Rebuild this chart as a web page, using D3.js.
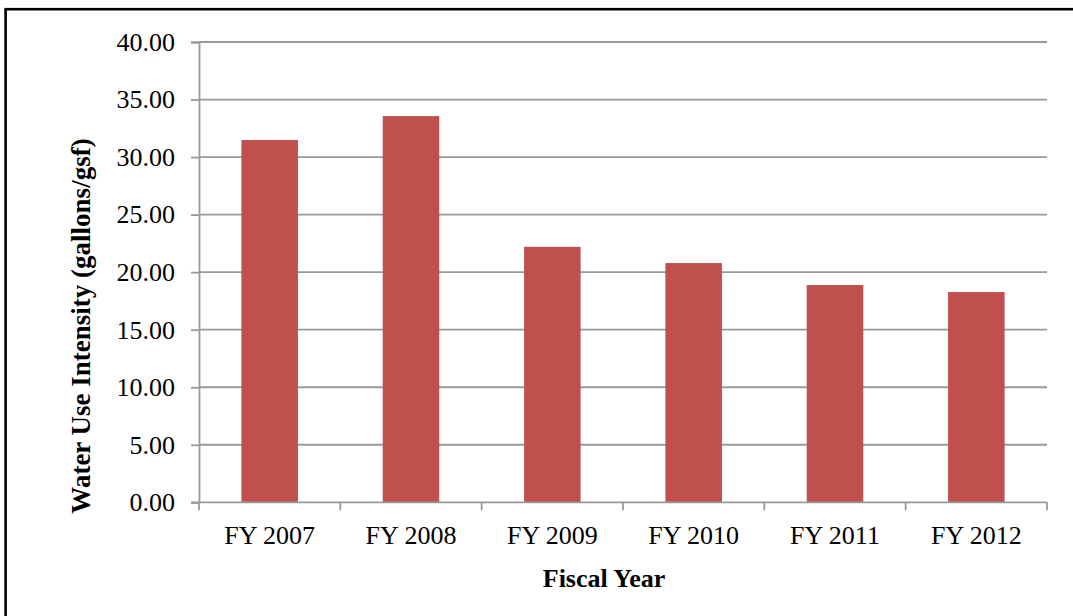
<!DOCTYPE html>
<html>
<head>
<meta charset="utf-8">
<script src="https://cdn.jsdelivr.net/npm/d3@7"></script>
<style>
  body { margin: 0; background: #fff; }
  svg { display: block; }
</style>
</head>
<body>
<div id="plot"></div>
<script>
"use strict";

const years = ["FY 2007", "FY 2008", "FY 2009", "FY 2010", "FY 2011", "FY 2012"];
const intensity = [31.48, 33.56, 22.2, 20.79, 18.88, 18.27];
const yTicks = [0, 5, 10, 15, 20, 25, 30, 35, 40];

const msm = {
    width: 1073,
    height: 616,
    left: 199,
    right: 1047,
    top: 42,
    bottom: 502.3
};

const svg = d3.select("#plot")
    .append("svg")
    .attr("width", msm.width)
    .attr("height", msm.height);

// outer frame (only left and top edges show in the picture)
svg.append("rect")
    .attr("x", 5.6)
    .attr("y", 9.2)
    .attr("width", 1200)
    .attr("height", 800)
    .attr("fill", "none")
    .attr("stroke", "#000")
    .attr("stroke-width", 2.6);

const yScale = d3.scaleLinear()
    .domain([0, 40])
    .range([msm.bottom, msm.top]);

// bars sit in the middle 40% of each category
const xScale = d3.scaleBand()
    .domain(years)
    .range([msm.left, msm.right])
    .paddingInner(0.6)
    .paddingOuter(0.3);

// category slots, used for the tick marks between categories
const slotScale = d3.scaleBand()
    .domain(years)
    .range([msm.left, msm.right])
    .padding(0);

const gridColor = "#999999";

// horizontal gridlines
svg.append("g")
    .selectAll("line")
    .data(yTicks.filter(t => t > 0))
    .enter()
    .append("line")
    .attr("x1", msm.left)
    .attr("x2", msm.right)
    .attr("y1", d => yScale(d))
    .attr("y2", d => yScale(d))
    .attr("stroke", gridColor)
    .attr("stroke-width", 1.8);

// bars
svg.append("g")
    .selectAll("rect")
    .data(years)
    .enter()
    .append("rect")
    .attr("x", d => xScale(d))
    .attr("width", xScale.bandwidth())
    .attr("y", (d, i) => yScale(intensity[i]))
    .attr("height", (d, i) => yScale(0) - yScale(intensity[i]))
    .attr("fill", "#C0504D");

// y axis
const yAxis = d3.axisLeft(yScale)
    .tickValues(yTicks)
    .tickSize(8)
    .tickPadding(16)
    .tickFormat(d3.format(".2f"));

const yG = svg.append("g")
    .attr("transform", "translate(" + msm.left + ",0)")
    .call(yAxis);

// x axis: ticks at the slot edges, labels in the middle
const edges = years.map(d => slotScale(d)).concat([msm.right]);
const xG = svg.append("g");
xG.append("line")
    .attr("x1", msm.left - 8)
    .attr("x2", msm.right)
    .attr("y1", msm.bottom)
    .attr("y2", msm.bottom);
xG.selectAll(".xtick")
    .data(edges)
    .enter()
    .append("line")
    .attr("class", "xtick")
    .attr("x1", d => d)
    .attr("x2", d => d)
    .attr("y1", msm.bottom)
    .attr("y2", msm.bottom + 8);
xG.selectAll("line")
    .attr("stroke", gridColor)
    .attr("stroke-width", 1.8);
xG.selectAll("text")
    .data(years)
    .enter()
    .append("text")
    .attr("x", d => slotScale(d) + slotScale.bandwidth() / 2)
    .attr("y", 544)
    .attr("text-anchor", "middle")
    .style("font-family", "'Liberation Serif', 'Times New Roman', serif")
    .style("font-size", "26px")
    .attr("fill", "#000")
    .text(d => d);

yG.select(".domain")
    .attr("stroke", gridColor)
    .attr("stroke-width", 1.8);
yG.selectAll(".tick line")
    .attr("stroke", gridColor)
    .attr("stroke-width", 1.8);
yG.selectAll(".tick text")
    .style("font-family", "'Liberation Serif', 'Times New Roman', serif")
    .style("font-size", "26px")
    .attr("fill", "#000");

// axis titles
svg.append("text")
    .attr("x", 604)
    .attr("y", 587)
    .attr("text-anchor", "middle")
    .style("font-family", "'Liberation Serif', 'Times New Roman', serif")
    .style("font-size", "26px")
    .style("font-weight", "bold")
    .text("Fiscal Year");

svg.append("text")
    .attr("transform", "translate(90, 326) rotate(-90)")
    .attr("text-anchor", "middle")
    .style("font-family", "'Liberation Serif', 'Times New Roman', serif")
    .style("font-size", "27px")
    .style("font-weight", "bold")
    .text("Water Use Intensity (gallons/gsf)");
</script>
</body>
</html>
